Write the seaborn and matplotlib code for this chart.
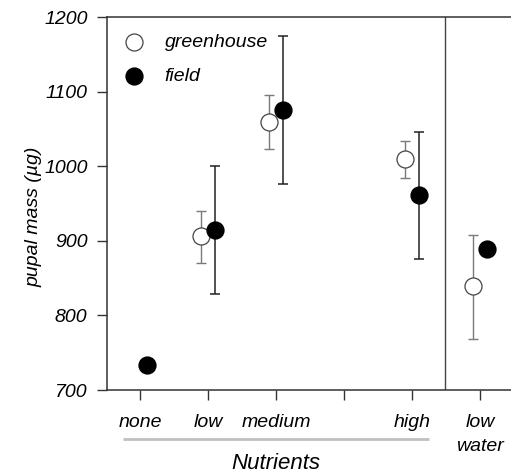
import matplotlib
matplotlib.use("Agg")
import matplotlib.pyplot as plt
import matplotlib.transforms as mtransforms
import numpy as np
import pandas as pd
import seaborn as sns

# Treatment levels along the x axis (the fourth nutrient slot is left empty)
levels = ["none", "low", "medium", "", "high", "low\nwater"]

# Greenhouse means and error bounds (µg)
gh_pos = [1, 2, 4, 5]
gh_mean = [906, 1059, 1009, 839]
gh_low = [870, 1023, 984, 768]
gh_high = [940, 1096, 1034, 908]

# Field means and error bounds (µg); no bars for "none" and "low water"
fd_pos = [0, 1, 2, 4, 5]
fd_mean = [734, 915, 1075, 961, 889]
fd_low = [np.nan, 829, 976, 875, np.nan]
fd_high = [np.nan, 1000, 1175, 1046, np.nan]

yticks = [700, 800, 900, 1000, 1100, 1200]

sns.set_style("ticks")
plt.rcParams["font.family"] = ["Liberation Sans", "DejaVu Sans"]
plt.rcParams["font.style"] = "italic"
plt.rcParams["text.color"] = "black"

fig = plt.figure(figsize=(5.11, 4.73), dpi=100)
ax = fig.add_axes([107 / 511, 83 / 473, 404 / 511, 373 / 473])

dodge = 0.1
gh = pd.DataFrame({"x": np.array(gh_pos) - dodge, "mass": gh_mean,
                   "lo": gh_low, "hi": gh_high})
fd = pd.DataFrame({"x": np.array(fd_pos) + dodge, "mass": fd_mean,
                   "lo": fd_low, "hi": fd_high})

# error bars beneath the symbols
ax.errorbar(gh["x"], gh["mass"],
            yerr=[gh["mass"] - gh["lo"], gh["hi"] - gh["mass"]],
            fmt="none", ecolor="#7a7a7a", elinewidth=1.0, capsize=3.8,
            capthick=1.0, zorder=2)
fdb = fd.dropna()
ax.errorbar(fdb["x"], fdb["mass"],
            yerr=[fdb["mass"] - fdb["lo"], fdb["hi"] - fdb["mass"]],
            fmt="none", ecolor="#222222", elinewidth=1.1, capsize=3.8,
            capthick=1.1, zorder=2)

sns.scatterplot(data=gh, x="x", y="mass", ax=ax, s=150, marker="o",
                facecolor="white", edgecolor="#444444", linewidth=0.9,
                label="greenhouse", zorder=3)
sns.scatterplot(data=fd, x="x", y="mass", ax=ax, s=150, marker="o",
                color="black", edgecolor="black", linewidth=0.9,
                label="field", zorder=4)

ax.set_xlim(-0.485, 5.456)
ax.set_ylim(700, 1200)
ax.set_xticks(range(len(levels)))
ax.set_xticklabels(levels, fontsize=14, style="italic", linespacing=1.55,
                   color="black")
ax.set_yticks(yticks)
ax.set_yticklabels([str(v) for v in yticks], fontsize=14, style="italic",
                   color="black")
ax.tick_params(axis="both", direction="out", length=7, width=1.0,
               color="#333333")
ax.tick_params(axis="x", pad=10)
ax.tick_params(axis="y", pad=7)
ax.set_xlabel("")
ax.set_ylabel("")

for side in ["left", "bottom", "top"]:
    ax.spines[side].set_color("#333333")
    ax.spines[side].set_linewidth(1.1)
ax.spines["right"].set_visible(False)

# separator between the nutrient and water treatments
ax.axvline(4.485, color="#444444", lw=1.0, zorder=1)

# group bracket and title for the nutrient levels
blend = mtransforms.blended_transform_factory(ax.transData, ax.transAxes)
ax.plot([-0.25, 4.25], [-0.131, -0.131], transform=blend, color="#c0c0c0",
        lw=2.0, clip_on=False, solid_capstyle="butt")
ax.text(2.0, -0.197, "Nutrients", transform=blend, ha="center", va="center",
        fontsize=16, style="italic", color="black")

fig.text(34 / 511, 1 - 217 / 473, "pupal mass (µg)", rotation=90,
         ha="center", va="center", fontsize=14, style="italic", color="black")

leg = ax.legend(loc="upper left", bbox_to_anchor=(0.01, 0.977), frameon=False,
                fontsize=14, handlelength=1.6, handletextpad=0.75,
                labelspacing=0.85, borderaxespad=0.0)
for t in leg.get_texts():
    t.set_style("italic")
    t.set_color("black")

fig.savefig("out.png", dpi=100)
